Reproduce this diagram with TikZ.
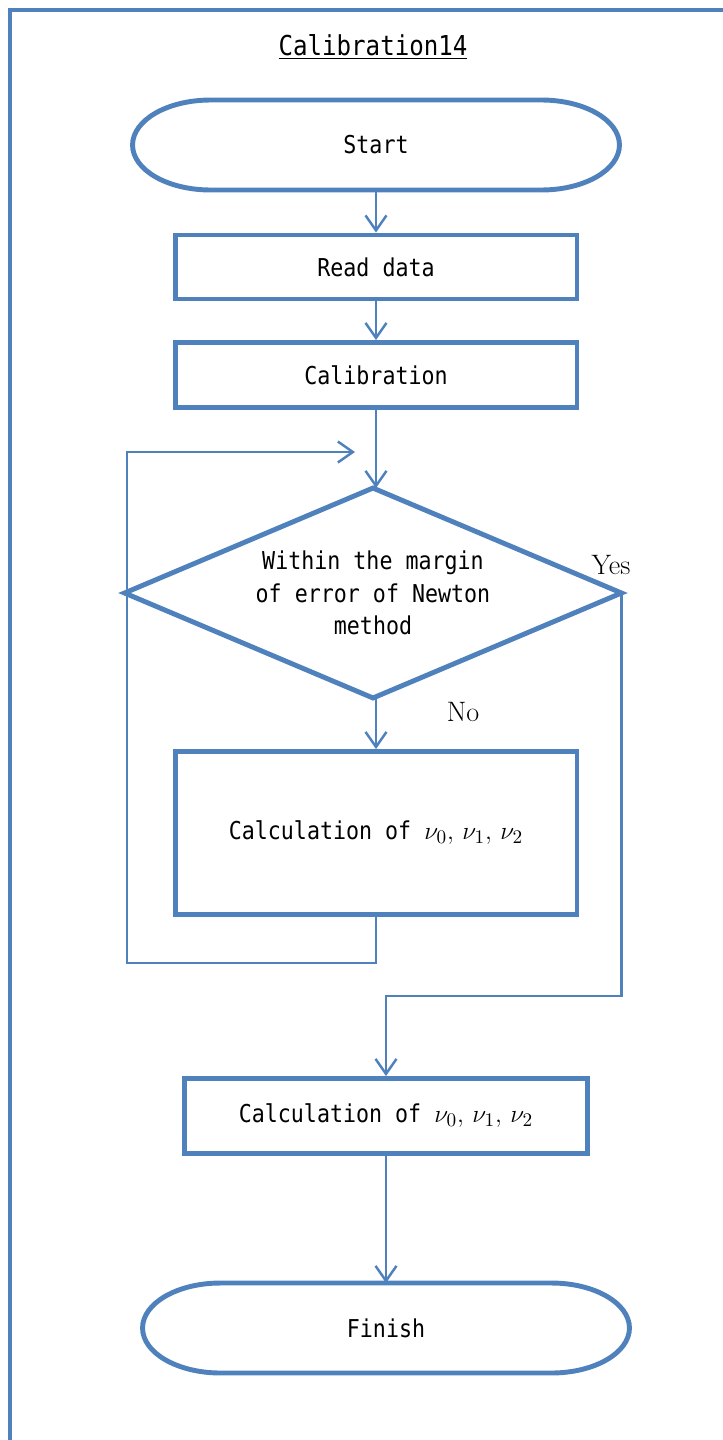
\documentclass[tikz,border=0pt]{standalone}
\usepackage{fontspec}
\usepackage{tikz}
\usetikzlibrary{arrows.meta,shapes.geometric}

\newfontfamily\gothic[FakeStretch=0.88]{DejaVu Sans Mono}
\definecolor{chartblue}{RGB}{79,129,189}

\tikzset{
    boxline/.style={draw=chartblue, line width=2.8pt},
    procbox/.style={boxline, rectangle, minimum width=8.04cm, inner sep=0pt},
    decision/.style={boxline, diamond, aspect=2.37, minimum width=9.94cm, minimum height=4.2cm, inner sep=0pt, outer sep=0pt, align=center},
    terminal/.style={rectangle, minimum width=9.74cm, minimum height=1.8cm, outer sep=0pt},
    flow/.style={chartblue, line width=1.4pt},
    >={Straight Barb[length=3mm,width=4.2mm]}
}
\newcommand{\nuset}{{\fontsize{15.5}{18}\selectfont$\nu_0,\,\nu_1,\,\nu_2$}}

\begin{document}
\begin{tikzpicture}[x=0.02cm, y=-0.02cm, every node/.style={font=\gothic\fontsize{14}{18.4}\selectfont}]
        \useasboundingbox (0,0) rectangle (723,1440);

        % Frame (left and top edges only)
        \draw[chartblue, line width=2.3pt] (10,1440) -- (10,10) -- (723,10);

        % Title
        \node (title) at (373,47) {\fontsize{15.6}{18}\selectfont\underline{Calibration14}};

        % Nodes
        \node[terminal] (start) at (376,145) {Start};
        \node[procbox, minimum height=1.28cm] (read) at (376,267) {Read data};
        \node[procbox, minimum height=1.3cm] (calib) at (376,375) {Calibration};
        \node[decision] (check) at (373,593) {Within the margin\\of error of Newton\\method};
        \node[procbox, minimum height=3.26cm] (calc) at (376,833) {Calculation of \nuset};
        \node[procbox, minimum width=8.06cm, minimum height=1.5cm] (result) at (386,1116) {Calculation of \nuset};
        \node[terminal] (finish) at (386,1328) {Finish};

        % Terminal outlines with elliptical ends
        \foreach \t in {start,finish}
            \draw[boxline] ([xshift=1.56cm]\t.north west) -- ([xshift=-1.56cm]\t.north east)
                arc[start angle=90, end angle=-90, x radius=1.56cm, y radius=0.9cm]
                -- ([xshift=1.56cm]\t.south west)
                arc[start angle=270, end angle=90, x radius=1.56cm, y radius=0.9cm] -- cycle;

        % Yes / No labels
        \node[font=\rmfamily\fontsize{16}{18}\selectfont] (yes) at (611,565) {Yes};
        \node[font=\rmfamily\fontsize{16}{18}\selectfont] (no) at (463,712) {No};

        % Turning points
        \coordinate (loopL) at (127,963);
        \coordinate (loopend) at (355,452);
        \coordinate (yesturn) at (386,996);

        % Connectors
        \draw[flow,->] (start.south) -- (read.north);
        \draw[flow,->] (read.south) -- (calib.north);
        \draw[flow,->] (calib.south) -- (calib.south |- check.north);
        \draw[flow,->] (calc.north |- check.south) -- (calc.north);
        \draw[flow,->] (calc.south) |- (loopL) -- (loopL |- loopend) -- (loopend);
        \draw[flow,->] (check.east) |- (yesturn) -- (result.north);
        \draw[flow,->] (result.south) -- (finish.north);
\end{tikzpicture}
\end{document}
